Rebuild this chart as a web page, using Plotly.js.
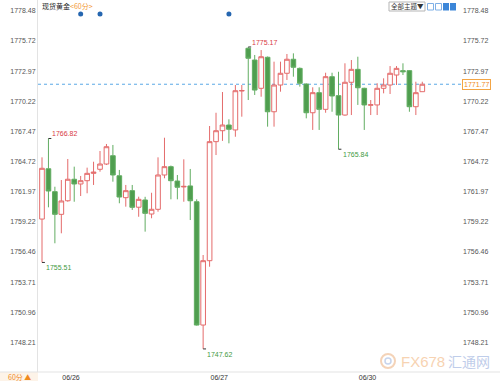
<!DOCTYPE html>
<html><head><meta charset="utf-8">
<script src="https://cdn.plot.ly/plotly-3.0.1.min.js"></script>
<style>html,body{margin:0;padding:0;background:#fff}#chart{width:500px;height:381px}</style>
</head><body><div id="chart"></div>
<script>
// ---- data (hourly candles, 现货黄金 60分) ----
const opens  = [1759.47,1764.06,1761.97,1759.90,1761.14,1763.10,1762.67,1762.97,1763.64,1764.01,
                1764.49,1765.25,1763.42,1761.42,1762.06,1760.55,1761.21,1759.93,1760.36,1763.49,
                1764.25,1762.94,1762.40,1762.49,1761.05,1749.80,1755.67,1766.53,1767.53,1768.05,
                1767.60,1771.15,1775.05,1773.98,1771.40,1774.23,1769.26,1771.70,1772.77,1774.05,
                1773.22,1771.79,1769.17,1771.00,1769.48,1772.46,1770.73,1768.96,1771.95,1773.13,
                1771.40,1769.85,1769.88,1771.40,1771.70,1772.61,1773.01,1773.01,1769.72,1771.09];
const highs  = [1765.10,1766.82,1762.42,1763.03,1764.95,1764.25,1763.40,1764.16,1764.70,1765.68,
                1766.32,1766.23,1763.95,1762.58,1762.58,1761.51,1761.50,1761.87,1765.10,1766.89,
                1764.35,1763.49,1764.92,1764.04,1761.27,1756.19,1767.96,1769.17,1771.06,1768.57,
                1771.70,1771.70,1775.17,1774.44,1774.89,1774.30,1773.83,1773.83,1774.53,1774.59,
                1773.30,1771.85,1771.49,1771.49,1772.82,1772.82,1772.91,1773.68,1773.98,1774.28,
                1771.45,1770.33,1771.86,1772.31,1773.43,1773.43,1773.68,1773.05,1772.00,1772.00];
const lows   = [1755.51,1760.54,1757.26,1758.17,1761.05,1761.05,1761.57,1761.82,1762.58,1763.79,
                1764.40,1762.88,1760.91,1760.60,1760.30,1759.68,1758.32,1759.54,1760.14,1763.19,
                1761.27,1761.27,1761.05,1759.38,1749.75,1747.62,1755.12,1765.31,1766.60,1766.38,
                1766.98,1768.81,1770.33,1770.79,1770.63,1767.90,1767.90,1771.09,1772.16,1772.46,
                1771.55,1768.66,1767.60,1767.60,1769.17,1769.26,1765.84,1768.90,1768.96,1769.88,
                1767.60,1768.96,1768.96,1770.94,1770.88,1771.70,1772.61,1769.26,1768.96,1771.09];
const closes = [1764.10,1762.03,1759.90,1761.12,1763.10,1762.67,1762.97,1763.64,1763.75,1764.49,
                1766.07,1763.49,1761.48,1762.06,1760.54,1761.27,1759.99,1760.36,1763.49,1764.25,
                1762.97,1762.37,1762.45,1761.14,1749.80,1755.67,1766.53,1767.53,1768.05,1767.66,
                1771.18,1771.20,1774.14,1771.24,1774.28,1769.26,1771.70,1772.77,1774.05,1773.32,
                1771.86,1769.17,1771.00,1769.48,1772.46,1770.70,1768.96,1771.95,1773.13,1771.45,
                1769.88,1769.90,1771.40,1771.70,1772.77,1773.22,1772.91,1769.72,1771.00,1771.77];
const dayLabels   = ['06/26','06/27','06/30'];
const dayStartIdx = [5, 28, 51];
const yTickLabels = ['1748.21','1750.96','1753.71','1756.46','1759.22','1761.97',
                     '1764.72','1767.47','1770.22','1772.97','1775.72','1778.48'];
const lastPrice = 1771.77;
const eventIdx  = [6, 9, 29];
const markHighIdx = [1, 32];
const markLowIdx  = [0, 25, 46];

// ---- layout geometry ----
const W = 500, H = 381, ML = 38, MR = 38, MT = 0, MB = 9;
const PW = W - ML - MR, PH = H - MT - MB;
const px = x => (x - ML) / PW;
const py = y => (H - MB - y) / PH;
const yRange = [1745.515, 1779.456];
const xRange = [-0.62, 65.16];

const xs = opens.map((_, i) => i);
const tickVals = yTickLabels.map(Number);
const fontF = 'Liberation Sans, Arial, sans-serif';
const cjk = 'Noto Sans CJK SC, sans-serif';
const RED = '#e46b6b', GREEN_L = '#62ad62', GREEN_F = '#4f9e4f';

const traces = [
  {type: 'candlestick', x: xs, open: opens, high: highs, low: lows, close: closes,
   increasing: {line: {color: RED, width: 1}, fillcolor: '#ffffff'},
   decreasing: {line: {color: GREEN_L, width: 1}, fillcolor: GREEN_F},
   whiskerwidth: 0, hoverinfo: 'skip', showlegend: false},
  {type: 'scatter', mode: 'markers', x: xs, y: closes, yaxis: 'y2',
   marker: {opacity: 0, size: 1}, hoverinfo: 'skip', showlegend: false},
  {type: 'scatter', mode: 'markers', x: eventIdx, y: eventIdx.map(() => py(14)), yaxis: 'y3',
   marker: {color: '#2566b0', size: 5}, hoverinfo: 'skip', showlegend: false}
];

const shapes = [
  {type: 'line', xref: 'paper', yref: 'y', x0: 0, x1: 1, y0: lastPrice, y1: lastPrice,
   line: {color: '#5aa8e6', width: 1, dash: 'dot'}, layer: 'below'},
  {type: 'rect', xref: 'paper', yref: 'paper', x0: px(0), x1: px(38), y0: py(381), y1: py(372),
   fillcolor: '#fdf3e8', line: {width: 0}},
  {type: 'line', xref: 'paper', yref: 'paper', x0: px(0), x1: px(500), y0: 0, y1: 0,
   line: {color: '#e3e3e3', width: 1}},
  // top-right controls
  {type: 'rect', xref: 'paper', yref: 'paper', x0: px(389), x1: px(425), y0: py(11), y1: py(2),
   fillcolor: '#ffffff', line: {color: '#b5b5b5', width: 1}},
  {type: 'rect', xref: 'paper', yref: 'paper', x0: px(427.5), x1: px(433.5), y0: py(10), y1: py(3.5),
   fillcolor: '#ffffff', line: {color: '#7fb0e6', width: 1}},
  {type: 'rect', xref: 'paper', yref: 'paper', x0: px(435.5), x1: px(441.5), y0: py(10), y1: py(3.5),
   fillcolor: '#ffffff', line: {color: '#7fb0e6', width: 1}},
  {type: 'rect', xref: 'paper', yref: 'paper', x0: px(443), x1: px(449), y0: py(10.5), y1: py(3),
   fillcolor: '#3c86d8', line: {width: 0}},
  {type: 'rect', xref: 'paper', yref: 'paper', x0: px(450), x1: px(456), y0: py(10.5), y1: py(3),
   fillcolor: '#3c86d8', line: {width: 0}},
  // watermark logo
  {type: 'circle', xref: 'paper', yref: 'paper', x0: px(381), x1: px(395), y0: py(368), y1: py(354),
   line: {color: '#f4d3b8', width: 2}},
  {type: 'circle', xref: 'paper', yref: 'paper', x0: px(385), x1: px(391), y0: py(364), y1: py(358),
   line: {color: '#c7d4ec', width: 1.5}}
];
markHighIdx.forEach(i => shapes.push({type: 'line', xref: 'x', yref: 'y', x0: i, x1: i + 0.45,
  y0: highs[i], y1: highs[i], line: {color: '#333', width: 1}}));
markLowIdx.forEach(i => shapes.push({type: 'line', xref: 'x', yref: 'y', x0: i, x1: i + 0.45,
  y0: lows[i], y1: lows[i], line: {color: '#333', width: 1}}));

const annotations = [
  {xref: 'paper', yref: 'paper', x: px(40), y: py(6), xanchor: 'left', yanchor: 'middle', showarrow: false,
   text: '现货黄金<span style="color:#f29a36">&lt;60分&gt;</span>', font: {family: cjk, size: 7, color: '#222'}},
  {xref: 'paper', yref: 'y', x: px(462), y: lastPrice, xanchor: 'left', yanchor: 'middle', showarrow: false,
   text: lastPrice.toFixed(2), font: {family: fontF, size: 7, color: '#f08a1e'},
   bgcolor: '#ffffff', bordercolor: '#f3a545', borderwidth: 1, borderpad: 1},
  {xref: 'paper', yref: 'paper', x: px(19), y: py(377), xanchor: 'center', yanchor: 'middle', showarrow: false,
   text: '60分 ▲', font: {family: cjk, size: 7, color: '#f08a1e'}},
  {xref: 'paper', yref: 'paper', x: px(407), y: py(6.5), xanchor: 'center', yanchor: 'middle', showarrow: false,
   text: '全部主题▼', font: {family: cjk, size: 6.5, color: '#333'}},
  {xref: 'paper', yref: 'paper', x: px(399), y: py(361), xanchor: 'left', yanchor: 'middle', showarrow: false,
   text: 'FX678', font: {family: fontF, size: 15, color: '#f7d3b2'}},
  {xref: 'paper', yref: 'paper', x: px(446), y: py(361), xanchor: 'left', yanchor: 'middle', showarrow: false,
   text: '汇通网', font: {family: cjk, size: 14, color: '#bfcdea'}}
];
markHighIdx.forEach(i => annotations.push({x: i, y: highs[i], xref: 'x', yref: 'y', xanchor: 'left',
  yanchor: 'bottom', xshift: 2, yshift: -1, showarrow: false, text: highs[i].toFixed(2),
  font: {family: fontF, size: 7, color: '#d8393f'}}));
markLowIdx.forEach(i => annotations.push({x: i, y: lows[i], xref: 'x', yref: 'y', xanchor: 'left',
  yanchor: 'top', xshift: 2, yshift: 0, showarrow: false, text: lows[i].toFixed(2),
  font: {family: fontF, size: 7, color: '#3f9a3f'}}));

const yCommon = {range: yRange, tickvals: tickVals, ticktext: yTickLabels, showgrid: false,
  zeroline: false, ticks: '', tickfont: {family: fontF, size: 7, color: '#555'}, fixedrange: true};

const layout = {
  width: W, height: H, margin: {l: ML, r: MR, t: MT, b: MB, pad: 0},
  paper_bgcolor: '#ffffff', plot_bgcolor: '#ffffff', showlegend: false,
  boxgap: 0.28, boxgroupgap: 0,
  xaxis: {range: xRange, rangeslider: {visible: false}, showgrid: false, zeroline: false,
    tickvals: dayStartIdx.map(i => i - 0.5), ticktext: dayLabels, ticks: '',
    tickfont: {family: fontF, size: 7, color: '#333'}, showline: false},
  yaxis: Object.assign({side: 'left', showline: true, linecolor: '#e3e3e3', linewidth: 1}, yCommon),
  yaxis2: Object.assign({side: 'right', overlaying: 'y', showline: false}, yCommon),
  yaxis3: {overlaying: 'y', range: [0, 1], visible: false, fixedrange: true},
  shapes: shapes, annotations: annotations
};

Plotly.newPlot('chart', traces, layout, {staticPlot: true, displayModeBar: false});
</script></body></html>
